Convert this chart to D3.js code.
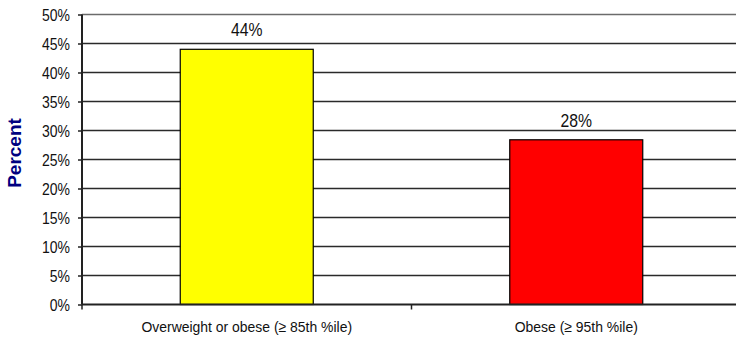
<!DOCTYPE html>
<html><head><meta charset="utf-8">
<script src="https://cdn.jsdelivr.net/npm/d3@7"></script>
<style>body{margin:0;background:#fff;} svg{display:block;font-family:"Liberation Sans",Arial,sans-serif;}</style>
</head><body>
<svg id="c" width="736" height="338"></svg>
<script>
const categories = ["Overweight or obese (\u2265 85th %ile)", "Obese (\u2265 95th %ile)"];
const values = [44, 28.4];
const valueLabels = ["44%", "28%"];
const barColors = ["#FFFF00", "#FF0000"];
const yTicks = [0,5,10,15,20,25,30,35,40,45,50];

const svg = d3.select("#c");
const L = 82, R = 741, T = 14.5, B = 304.5;
const x = d3.scaleBand().domain(categories).range([L, R]).paddingInner(0).paddingOuter(0);
const y = d3.scaleLinear().domain([0, 50]).range([B, T]);

// gridlines
svg.append("g").selectAll("line").data(yTicks.filter(d => d > 0)).join("line")
  .attr("x1", L).attr("x2", R)
  .attr("y1", d => y(d)).attr("y2", d => y(d))
  .attr("stroke", d => d === 50 ? "#6b6b6b" : "#2a2a2a").attr("stroke-width", 1.5);

// bars
const barW = 133;
svg.append("g").selectAll("rect").data(categories).join("rect")
  .attr("x", d => x(d) + x.bandwidth()/2 - barW/2)
  .attr("y", (d,i) => y(values[i]))
  .attr("width", barW)
  .attr("height", (d,i) => y(0) - y(values[i]))
  .attr("fill", (d,i) => barColors[i])
  .attr("stroke", "#000").attr("stroke-width", 1.2);

// value labels
svg.append("g").selectAll("text").data(categories).join("text")
  .attr("transform", (d,i) => `translate(${x(d) + x.bandwidth()/2},${y(values[i]) - 13}) scale(0.9,1)`)
  .attr("text-anchor", "middle").attr("font-size", 17.5).attr("fill", "#111")
  .text((d,i) => valueLabels[i]);

// y axis
const ySX = 0.875;
const yAxis = d3.axisLeft(y).tickValues(yTicks).tickFormat(d => d + "%").tickSize(4).tickPadding(8);
const gy = svg.append("g").attr("transform", `translate(${L},0)`).call(yAxis);
gy.select(".domain").attr("stroke", "#222").attr("stroke-width", 2).attr("d", `M0,${T}V${B}`);
gy.selectAll(".tick line").attr("stroke", "#222").attr("stroke-width", 1.5);
gy.selectAll(".tick text").attr("font-size", 16).attr("fill", "#111")
  .attr("font-family", "Liberation Sans, Arial, sans-serif")
  .attr("x", -12 / ySX).attr("dy", "0.35em")
  .attr("transform", `scale(${ySX},1)`);

// x axis
const gx = svg.append("g").attr("transform", `translate(0,${B})`);
gx.append("line").attr("x1", L).attr("x2", R).attr("stroke", "#222").attr("stroke-width", 2);
const bounds = [L, x(categories[1])];
gx.selectAll("line.t").data(bounds).join("line").attr("class", "t")
  .attr("x1", d => d).attr("x2", d => d).attr("y1", 0).attr("y2", 5)
  .attr("stroke", "#222").attr("stroke-width", 1.5);
gx.selectAll("text").data(categories).join("text")
  .attr("transform", d => `translate(${x(d) + x.bandwidth()/2},27.5) scale(0.9,1)`)
  .attr("text-anchor", "middle").attr("font-size", 15.5).attr("fill", "#111")
  .text(d => d);

// y label
svg.append("text").attr("transform", "translate(21,153) rotate(-90)")
  .attr("text-anchor", "middle").attr("font-size", 19).attr("font-weight", "bold")
  .attr("fill", "#000080").text("Percent");
</script>
</body></html>
